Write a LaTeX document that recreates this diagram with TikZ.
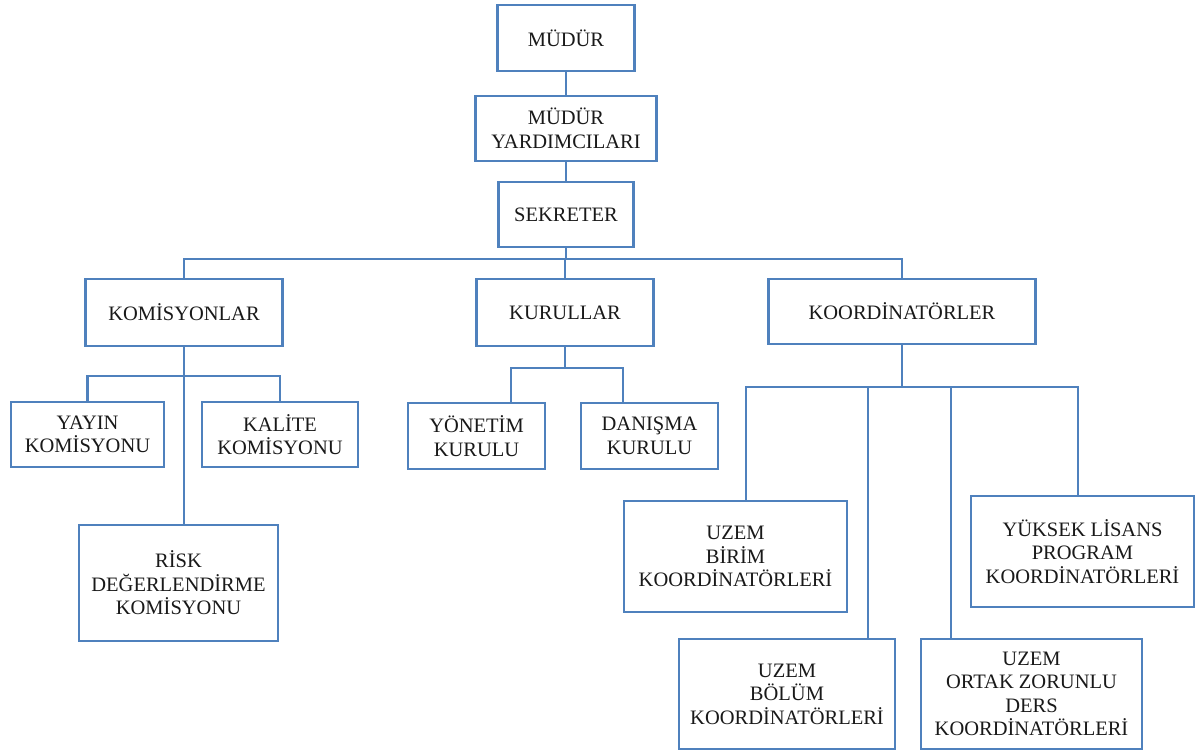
\documentclass[tikz,border=0pt]{standalone}
\usepackage{fontspec}
\setmainfont{Liberation Serif}
\definecolor{lineblue}{RGB}{79,129,189}
\definecolor{txt}{RGB}{25,25,25}
\begin{document}
\begin{tikzpicture}[x=1pt,y=-1pt,
  box/.style={draw=lineblue, line width=2.4pt, fill=white, align=center, inner sep=0pt,
    text=txt, font=\fontsize{20.5}{23.5}\selectfont},
  conn/.style={draw=lineblue, line width=2.4pt}]
\useasboundingbox (0,0) rectangle (1198,755);
\node[box, minimum width=137, minimum height=66] (mudur) at (566,38) {MÜDÜR};
\node[box, minimum width=181, minimum height=65] (yard) at (566,128.5) {MÜDÜR\\YARDIMCILARI};
\node[box, minimum width=135, minimum height=65] (sek) at (566,214.5) {SEKRETER};
\node[box, minimum width=197, minimum height=67] (kom) at (184,312.5) {KOMİSYONLAR};
\node[box, minimum width=177, minimum height=67] (kur) at (565,312.5) {KURULLAR};
\node[box, minimum width=267, minimum height=65] (koord) at (902,311.5) {KOORDİNATÖRLER};
\node[box, minimum width=153, minimum height=65] (yayin) at (87.5,434.5) {YAYIN\\KOMİSYONU};
\node[box, minimum width=156, minimum height=65] (kalite) at (280,434.5) {KALİTE\\KOMİSYONU};
\node[box, minimum width=199, minimum height=116] (risk) at (178.5,583) {RİSK\\DEĞERLENDİRME\\KOMİSYONU};
\node[box, minimum width=137, minimum height=66] (yonetim) at (476.5,436) {YÖNETİM\\KURULU};
\node[box, minimum width=137, minimum height=66] (danisma) at (649.5,436) {DANIŞMA\\KURULU};
\node[box, minimum width=223, minimum height=111] (birim) at (735.5,556.5) {UZEM\\BİRİM\\KOORDİNATÖRLERİ};
\node[box, minimum width=216, minimum height=110] (bolum) at (787,694) {UZEM\\BÖLÜM\\KOORDİNATÖRLERİ};
\node[box, minimum width=221, minimum height=110] (ortak) at (1031.5,694) {UZEM\\ORTAK ZORUNLU\\DERS\\KOORDİNATÖRLERİ};
\node[box, minimum width=223, minimum height=111] (yuksek) at (1082.5,551.5) {YÜKSEK LİSANS\\PROGRAM\\KOORDİNATÖRLERİ};
% top spine
\draw[conn] (mudur) -- (yard);
\draw[conn] (yard) -- (sek);
\coordinate (bus) at (566,259);
\draw[conn] (sek.south) -- (sek.south |- bus);
\draw[conn] (kom.north) |- (bus) -| (koord.north);
\draw[conn] (kur.north) -- (kur.north |- bus);
% komisyonlar
\coordinate (kj) at (184,376);
\draw[conn] (kom.south) -- (kom.south |- risk.north);
\draw[conn] (yayin.north) |- (kj) -| (kalite.north);
% kurullar
\coordinate (kuj) at (565,368);
\coordinate (y1) at (511,368);
\coordinate (d1) at (623,368);
\draw[conn] (kur.south) -- (kuj);
\draw[conn] (y1 |- yonetim.north) -- (y1) -- (d1) -- (d1 |- danisma.north);
% koordinatorler
\coordinate (c1) at (746,387);
\coordinate (c2) at (868,387);
\coordinate (c3) at (951,387);
\coordinate (c4) at (1078,387);
\draw[conn] (koord.south) -- (koord.south |- c1);
\draw[conn] (c1 |- birim.north) -- (c1) -- (c4) -- (c4 |- yuksek.north);
\draw[conn] (c2) -- (c2 |- bolum.north);
\draw[conn] (c3) -- (c3 |- ortak.north);
\end{tikzpicture}
\end{document}
